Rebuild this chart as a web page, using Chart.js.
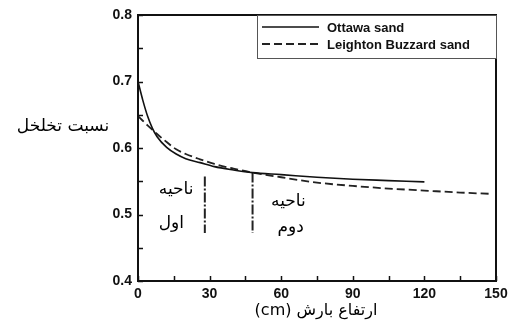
<!DOCTYPE html>
<html>
<head>
<meta charset="utf-8">
<script src="https://cdn.jsdelivr.net/npm/chart.js@4.4.0/dist/chart.umd.min.js"></script>
<style>
  html, body { margin: 0; padding: 0; background: #fff; }
</style>
</head>
<body>
<canvas id="canvas" width="508" height="322"></canvas>
<script>
// porosity vs rainfall height (cm)
let ottawaX = [0, 2, 4, 6, 8, 12, 16, 20, 26, 32, 40, 48, 60, 75, 90, 105, 120];
let ottawaY = [0.700, 0.672, 0.648, 0.630, 0.617, 0.601, 0.591, 0.584, 0.578, 0.572, 0.567, 0.563, 0.560, 0.556, 0.553, 0.551, 0.549];

let leightonX = [0, 2, 4, 8, 12, 16, 20, 26, 32, 40, 48, 60, 75, 90, 105, 120, 135, 148];
let leightonY = [0.648, 0.641, 0.634, 0.621, 0.609, 0.598, 0.591, 0.583, 0.576, 0.569, 0.563, 0.556, 0.548, 0.543, 0.539, 0.536, 0.533, 0.531];

let seriesNames = ['Ottawa sand', 'Leighton Buzzard sand'];

// zone boundaries (dash-dot vertical lines)
let zoneLineX = [28, 48];
let zoneLineTop = [0.557, 0.563];
let zoneLineBottom = [0.472, 0.472];

// zone captions
let zoneText = ['ناحیه', 'اول', 'ناحیه', 'دوم'];
let zoneTextX = [16, 14, 63, 64];
let zoneTextY = [0.537, 0.487, 0.519, 0.480];

let xLabelTicks = [0, 30, 60, 90, 120, 150];
let yLabelTicks = [0.4, 0.5, 0.6, 0.7, 0.8];

let xTitle = 'ارتفاع بارش (cm)';
let yTitle = 'نسبت تخلخل';

function points(xs, ys) {
  let p = [];
  for (let i = 0; i < xs.length; i++) p.push({x: xs[i], y: ys[i]});
  return p;
}

let datasets = [
  {
    label: seriesNames[0],
    data: points(ottawaX, ottawaY),
    borderColor: '#111',
    borderWidth: 1.6,
    pointRadius: 0,
    cubicInterpolationMode: 'monotone'
  },
  {
    label: seriesNames[1],
    data: points(leightonX, leightonY),
    borderColor: '#222',
    borderWidth: 1.8,
    borderDash: [8, 4],
    pointRadius: 0,
    cubicInterpolationMode: 'monotone'
  }
];

for (let i = 0; i < zoneLineX.length; i++) {
  datasets.push({
    label: 'zone' + i,
    data: [{x: zoneLineX[i], y: zoneLineTop[i]}, {x: zoneLineX[i], y: zoneLineBottom[i]}],
    borderColor: '#222',
    borderWidth: 2,
    borderDash: [10, 2, 2, 2],
    pointRadius: 0
  });
}

// box, inward ticks, captions, titles and legend
const extras = {
  id: 'extras',
  afterDatasetsDraw(chart) {
    const ctx = chart.ctx;
    const a = chart.chartArea;
    const xs = chart.scales.x;
    const ys = chart.scales.y;
    ctx.save();

    // inward ticks
    ctx.strokeStyle = '#111';
    ctx.lineWidth = 1.5;
    ctx.beginPath();
    for (let t of xs.ticks) {
      let px = Math.round(xs.getPixelForValue(t.value)) + 0.5;
      ctx.moveTo(px, a.bottom);
      ctx.lineTo(px, a.bottom - 5);
    }
    for (let t of ys.ticks) {
      let py = Math.round(ys.getPixelForValue(t.value)) + 0.5;
      ctx.moveTo(a.left, py);
      ctx.lineTo(a.left + 5, py);
    }
    ctx.stroke();

    // frame
    ctx.lineWidth = 2;
    ctx.strokeRect(a.left, a.top, a.right - a.left, a.bottom - a.top);

    // zone captions
    ctx.fillStyle = '#000';
    ctx.direction = 'rtl';
    ctx.textAlign = 'center';
    ctx.textBaseline = 'middle';
    ctx.font = '17px "DejaVu Sans", "Noto Sans", sans-serif';
    for (let i = 0; i < zoneText.length; i++) {
      ctx.fillText(zoneText[i], xs.getPixelForValue(zoneTextX[i]), ys.getPixelForValue(zoneTextY[i]));
    }

    // axis titles (horizontal, Persian)
    ctx.font = '16px "DejaVu Sans", "Noto Sans", sans-serif';
    ctx.fillText(xTitle, 316, 311);
    ctx.font = '17px "DejaVu Sans", "Noto Sans", sans-serif';
    ctx.fillText(yTitle, 63, 127);

    // legend in the top right corner
    ctx.direction = 'ltr';
    let lx = a.right - 239, ly = a.top, lw = 239, lh = 43;
    ctx.fillStyle = '#fff';
    ctx.fillRect(lx, ly, lw, lh);
    ctx.strokeStyle = '#555';
    ctx.lineWidth = 1;
    ctx.strokeRect(lx + 0.5, ly + 0.5, lw, lh);
    ctx.font = 'bold 13px "Liberation Sans", Arial, sans-serif';
    ctx.textAlign = 'left';
    ctx.fillStyle = '#111';
    for (let i = 0; i < 2; i++) {
      let ds = chart.data.datasets[i];
      let ry = ly + 12 + i * 17;
      ctx.strokeStyle = ds.borderColor;
      ctx.lineWidth = ds.borderWidth;
      ctx.setLineDash(ds.borderDash || []);
      ctx.beginPath();
      ctx.moveTo(lx + 5, ry);
      ctx.lineTo(lx + 62, ry);
      ctx.stroke();
      ctx.fillText(ds.label, lx + 70, ry + 1);
    }
    ctx.restore();
  }
};

let tickFont = { family: '"Liberation Sans", Arial, sans-serif', size: 14, weight: 'bold' };

let options = {
  type: 'line',
  data: { datasets: datasets },
  options: {
    responsive: false,
    animation: false,
    layout: { padding: { top: 15, right: 0, left: 0, bottom: 0 } },
    plugins: {
      legend: { display: false },
      tooltip: { enabled: false }
    },
    scales: {
      x: {
        type: 'linear',
        min: 0,
        max: 150,
        grid: { display: false, drawTicks: false },
        border: { display: false },
        ticks: {
          stepSize: 15,
          maxRotation: 0,
          padding: 5,
          color: '#111',
          font: tickFont,
          callback: v => xLabelTicks.includes(v) ? String(v) : ''
        },
        afterFit: s => { s.height = 41; s.paddingRight = 12; }
      },
      y: {
        min: 0.4,
        max: 0.8,
        grid: { display: false, drawTicks: false },
        border: { display: false },
        ticks: {
          stepSize: 0.05,
          padding: 6,
          color: '#111',
          font: tickFont,
          callback: v => {
            let r = Math.round(v * 100) / 100;
            return yLabelTicks.includes(r) ? r.toFixed(1) : '';
          }
        },
        afterFit: s => { s.width = 138; }
      }
    }
  },
  plugins: [extras]
};

let chart = new Chart(document.getElementById('canvas'), options);
</script>
</body>
</html>
